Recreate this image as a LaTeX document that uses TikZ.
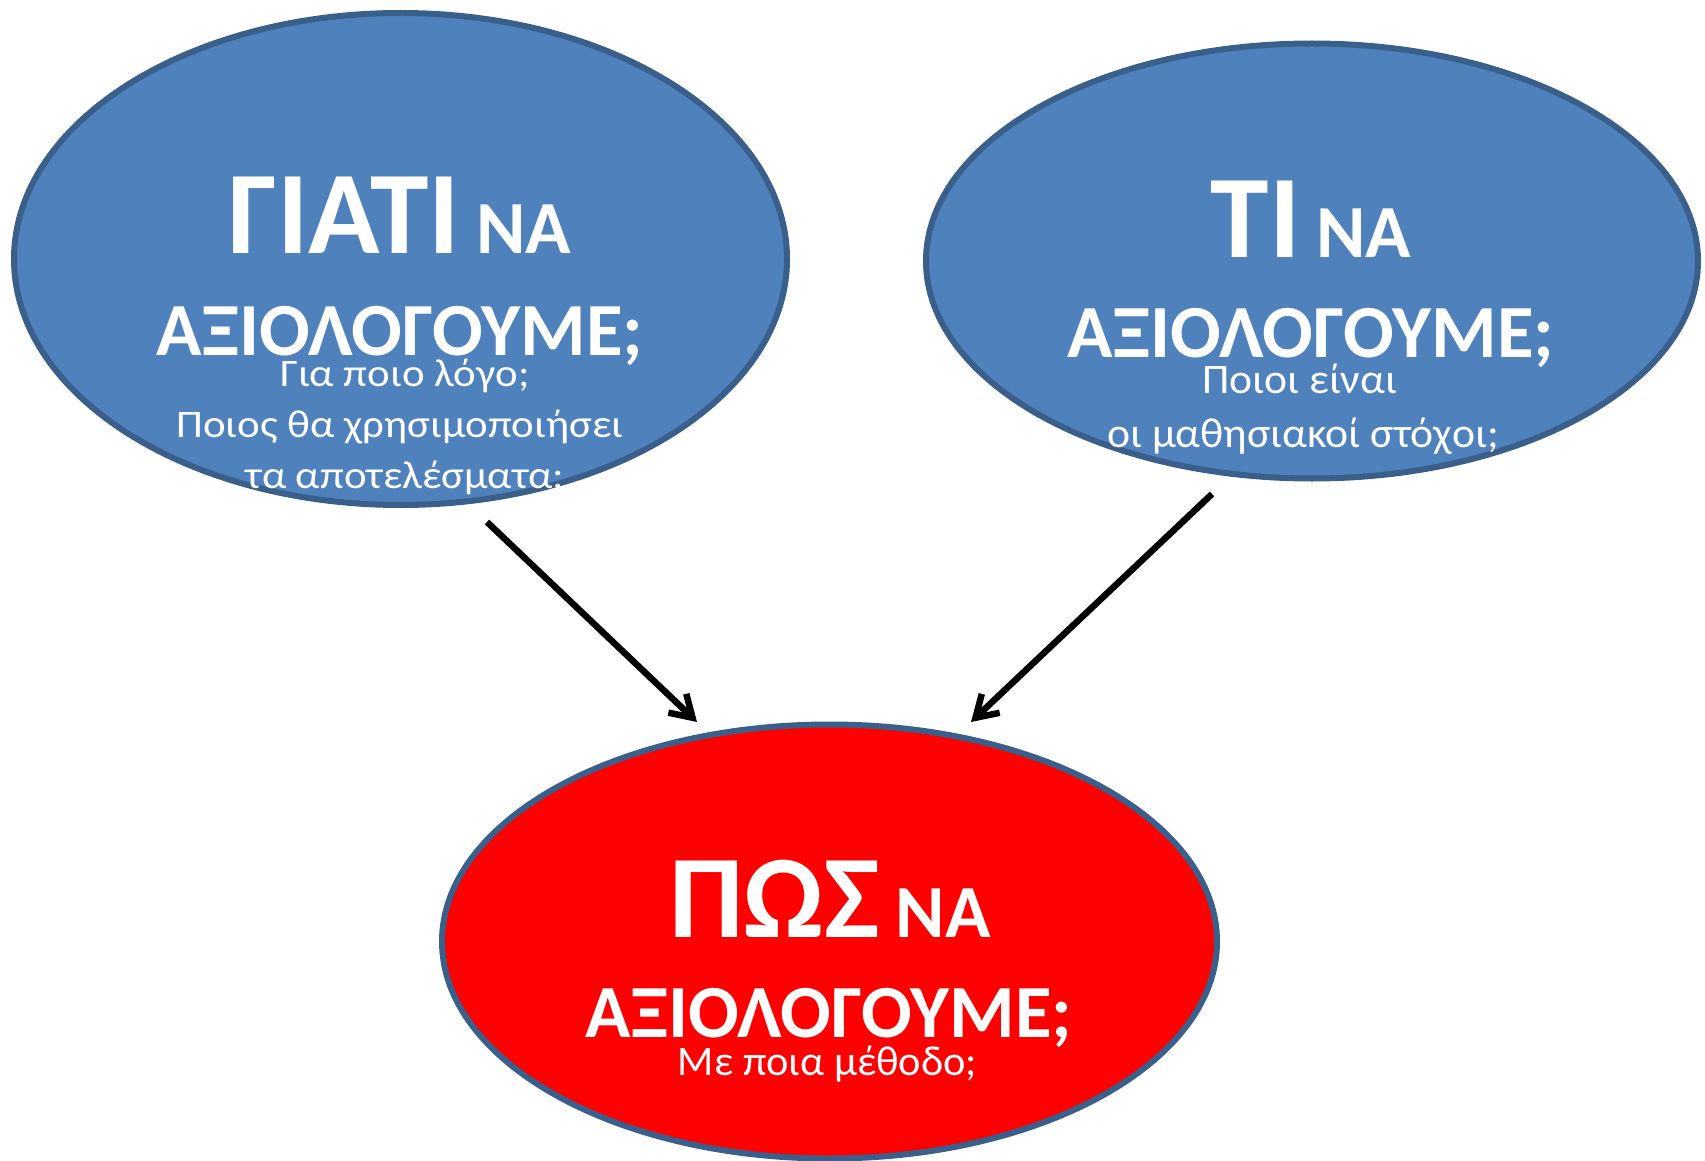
\documentclass[tikz,border=0pt]{standalone}
\usepackage{fontspec}
\setmainfont{Carlito}
\newfontfamily\subA[FakeStretch=1.1]{Carlito}
\newfontfamily\subB[FakeStretch=1.04]{Carlito}
\newfontfamily\subC[FakeStretch=1.01]{Carlito}
\usetikzlibrary{shapes.geometric,arrows.meta}
\definecolor{fillblue}{HTML}{4F81BD}
\definecolor{edgeblue}{HTML}{3A5F8B}
\definecolor{fillred}{HTML}{FF0000}
\tikzset{
  bubble/.style={ellipse, draw=edgeblue, line width=6pt, inner sep=0pt},
  bluebub/.style={bubble, fill=fillblue},
  redbub/.style={bubble, fill=fillred},
  ttl/.style={text=white, font=\bfseries, anchor=base, inner sep=0pt},
  subline/.style={text=white, anchor=base, inner sep=0pt},
  conn/.style={-{Straight Barb[length=21pt,width=26pt,line width=6.5pt]}, line width=6.5pt, black}
}
\newcommand{\bigw}[1]{{\fontsize{118}{118}\selectfont #1}}
\newcommand{\midw}[1]{{\fontsize{75}{75}\selectfont #1}}
\begin{document}
\begin{tikzpicture}[x=1pt,y=-1pt]
\path[fill=white,use as bounding box] (0,0) rectangle (1705,1161);
% ellipses
\node[bluebub, minimum width=773pt, minimum height=492pt] (why) at (400.5,259) {};
\node[bluebub, minimum width=772pt, minimum height=435pt] (what) at (1312,261) {};
\node[redbub, minimum width=775pt, minimum height=434pt] (how) at (829.5,941.5) {};
% texts ellipse 1
\node[ttl] (why1) at (400,254) {\bigw{ΓΙΑΤΙ}\hspace{16pt}\midw{ΝΑ}};
\node[ttl] (why2) at (400,355) {\midw{ΑΞΙΟΛΟΓΟΥΜΕ;}};
\node[subline, font=\subA\fontsize{39}{39}\selectfont] (why3) at (405,386) {Για ποιο λόγο;};
\node[subline, font=\subA\fontsize{39}{39}\selectfont] (why4) at (400,437) {Ποιος θα χρησιμοποιήσει};
\node[subline, font=\subA\fontsize{39}{39}\selectfont] (why5) at (405,488) {τα αποτελέσματα;};
% texts ellipse 2
\node[ttl] (what1) at (1311,257) {\bigw{ΤΙ}\hspace{16pt}\midw{ΝΑ}};
\node[ttl] (what2) at (1311,357) {\midw{ΑΞΙΟΛΟΓΟΥΜΕ;}};
\node[subline, font=\subB\fontsize{42}{42}\selectfont] (what3) at (1300,393) {Ποιοι είναι};
\node[subline, font=\subB\fontsize{42}{42}\selectfont] (what4) at (1303,447) {οι μαθησιακοί στόχοι;};
% texts ellipse 3
\node[ttl] (how1) at (830,937) {\bigw{ΠΩΣ}\hspace{16pt}\midw{ΝΑ}};
\node[ttl] (how2) at (829,1037) {\midw{ΑΞΙΟΛΟΓΟΥΜΕ;}};
\node[subline, font=\subC\fontsize{42}{42}\selectfont] (how3) at (827.5,1075) {Με ποια μέθοδο;};
% connectors
\coordinate (a1s) at (487,522);
\coordinate (a1e) at (697,722);
\coordinate (a2s) at (1212,494);
\coordinate (a2e) at (971,722);
\draw[conn] (a1s) -- (a1e);
\draw[conn] (a2s) -- (a2e);
\end{tikzpicture}
\end{document}
